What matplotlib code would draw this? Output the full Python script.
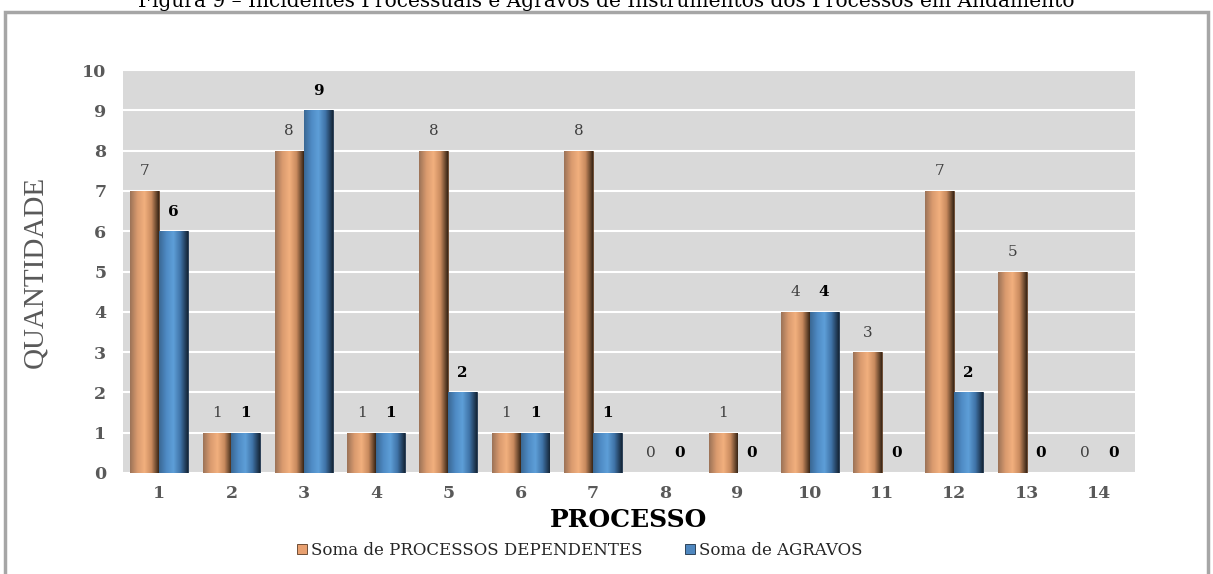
import numpy as np
import matplotlib.pyplot as plt
from matplotlib.colors import LinearSegmentedColormap
from matplotlib.patches import Rectangle

processos = ['1', '2', '3', '4', '5', '6', '7', '8', '9', '10', '11', '12', '13', '14']
dependentes = [7, 1, 8, 1, 8, 1, 8, 0, 1, 4, 3, 7, 5, 0]
agravos = [6, 1, 9, 1, 2, 1, 1, 0, 0, 4, 0, 2, 0, 0]

serif = 'Liberation Serif'
wide = 'DejaVu Serif'
gray_txt = '#595959'

fig = plt.figure(figsize=(12.13, 5.74), dpi=100)
ax = fig.add_axes([0.1014, 0.176, 0.8343, 0.702])
ax.set_facecolor('#D9D9D9')

x = np.arange(len(processos))
w = 0.4
b1 = ax.bar(x - w / 2, dependentes, w, color='#E8A070', edgecolor='#5a3a22', linewidth=0.6, zorder=2)
b2 = ax.bar(x + w / 2, agravos, w, color='#4F87BF', edgecolor='#1c2f44', linewidth=0.6, zorder=2)

# shaded "cylinder" look
orange_cm = LinearSegmentedColormap.from_list('o', ['#9C7358', '#D99A6E', '#F2B07E', '#C88A5E', '#3A2616'])
blue_cm = LinearSegmentedColormap.from_list('b', ['#3A6894', '#4E8AC4', '#5E9FD8', '#3F72A6', '#16273A'])
grad = np.linspace(0, 1, 64).reshape(1, -1)
for bars, cm in ((b1, orange_cm), (b2, blue_cm)):
    for p in bars:
        h = p.get_height()
        if h <= 0:
            continue
        x0 = p.get_x()
        im = ax.imshow(grad, cmap=cm, aspect='auto', zorder=3,
                       extent=(x0, x0 + p.get_width(), 0, h))
        im.set_clip_path(p)

for p, v in zip(b1, dependentes):
    ax.annotate(str(v), (p.get_x() + p.get_width() / 2, v), xytext=(0, 9),
                textcoords='offset points', ha='center', va='bottom',
                fontsize=11, family=wide, color='#404040', zorder=4)
for p, v in zip(b2, agravos):
    ax.annotate(str(v), (p.get_x() + p.get_width() / 2, v), xytext=(0, 9),
                textcoords='offset points', ha='center', va='bottom',
                fontsize=11, family=wide, fontweight='bold', color='black', zorder=4)

ax.set_xlim(-0.5, len(processos) - 0.5)
ax.set_ylim(0, 10)
ax.set_yticks(range(0, 11))
ax.set_xticks(x)
ax.set_xticklabels(processos)
ax.yaxis.grid(True, color='white', linewidth=1.5, zorder=1)
ax.set_axisbelow(True)
for s in ax.spines.values():
    s.set_visible(False)
ax.tick_params(length=0, labelsize=12.5, labelcolor=gray_txt)
ax.tick_params(axis='y', pad=12)
ax.tick_params(axis='x', pad=9)
for lab in ax.get_xticklabels() + ax.get_yticklabels():
    lab.set_family(wide)
    lab.set_fontweight('bold')

ax.set_ylabel('QUANTIDADE', family=serif, fontsize=21, color=gray_txt, labelpad=24)
ax.set_xlabel('PROCESSO', family=wide, fontsize=18, fontweight='bold', color='black', labelpad=4)

leg = fig.legend([b1, b2], ['Soma de PROCESSOS DEPENDENTES', 'Soma de AGRAVOS'],
                 loc='center', bbox_to_anchor=(0.478, 0.041), ncol=2, frameon=False,
                 prop={'family': wide, 'size': 12}, handlelength=0.6, handleheight=0.6,
                 handletextpad=0.2, columnspacing=2.6)
for t in leg.get_texts():
    t.set_color('#262626')

# outer frame
fig.patches.append(Rectangle((5 / 1213, -0.05), 1203 / 1213, 1.05 - 12 / 574,
                             transform=fig.transFigure, fill=False,
                             edgecolor='#A6A6A6', linewidth=2.5, clip_on=False))

fig.text(0.5, 1 - 7 / 574, 'Figura 9 – Incidentes Processuais e Agravos de Instrumentos dos Processos em Andamento',
         ha='center', va='baseline', family=wide, fontsize=14.5, color='black')

fig.savefig('out.png', dpi=100)
